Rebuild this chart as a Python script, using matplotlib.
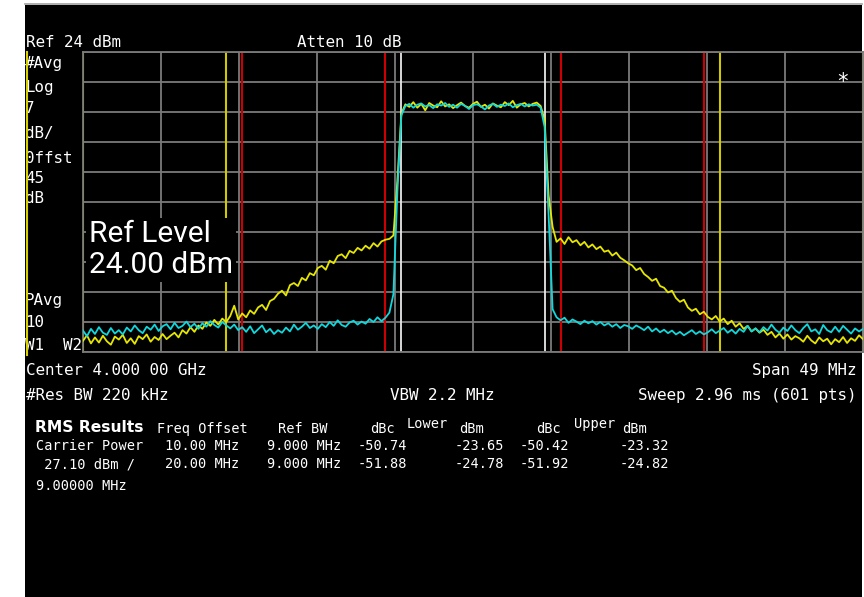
import numpy as np
import matplotlib
matplotlib.use("Agg")
import matplotlib.pyplot as plt
from matplotlib.patches import Rectangle

# ACP measurement screen, 601-pt sweep read back at 0.25 MHz steps
span_mhz = 49.0
ref_dbm = 24.0
db_div = 7.0

# yellow trace (W1), dBm
w1 = [-43.4, -42.1, -44.0, -42.6, -43.8, -42.2, -43.5, -44.3, -42.4, -43.1,
      -42.0, -43.9, -42.8, -44.1, -42.3, -43.0, -41.9, -43.6, -42.5, -43.2,
      -41.8, -43.0, -42.2, -41.5, -42.6, -40.9, -41.7, -40.2, -41.3, -39.8,
      -40.6, -39.1, -39.9, -38.5, -39.6, -38.2, -39.0, -37.6, -35.2, -38.4,
      -37.0, -37.9, -36.3, -37.1, -35.6, -35.0, -36.2, -34.1, -33.6, -32.4,
      -31.7, -32.8, -30.4, -29.9, -30.6, -28.7, -29.3, -27.6, -28.1, -26.4,
      -25.9, -26.8, -24.7, -25.3, -23.6, -23.2, -24.1, -22.4, -22.9, -21.7,
      -22.3, -21.2, -21.9, -20.6, -21.4, -20.2, -19.8,
      -19.6, -18.8, -6.0, 9.6,
      11.8, 11.2, 12.3, 11.0, 11.9, 10.4, 12.1, 11.5, 11.1, 12.5,
      11.3, 11.8, 10.9, 11.6, 12.2, 11.4, 11.0, 11.9, 12.4, 11.2,
      11.7, 10.8, 12.0, 11.5, 11.1, 12.3, 11.6, 12.6, 11.0, 11.8,
      12.1, 11.3, 11.9, 12.2, 11.4,
      8.2, -9.5, -16.8,
      -20.3,
      -19.5, -20.8, -19.2, -20.4, -19.9, -21.1, -20.3, -21.6, -20.9, -22.0,
      -21.4, -22.6, -22.3, -23.5, -22.8, -24.0, -24.6, -25.3, -25.8, -26.9,
      -26.4, -27.8, -28.5, -29.4, -28.9, -30.6, -31.0, -32.1, -31.7, -33.4,
      -34.3, -33.8, -35.6, -36.4, -35.9, -37.2, -36.6, -37.8, -38.4, -37.6,
      -38.9, -38.2, -39.5, -38.7, -40.1, -39.3, -40.6, -39.9, -41.2, -40.5,
      -41.5, -40.8, -42.0, -41.3, -42.6, -41.7, -42.9, -41.9, -43.1, -42.3,
      -42.8, -43.6, -42.2, -43.3, -44.0, -42.6, -43.5, -42.9, -44.2, -43.0,
      -43.7, -42.5, -43.9, -42.8, -43.4, -42.1, -43.0]

# cyan trace (W2), dBm
w2 = [-41.0, -42.3, -40.6, -41.8, -40.2, -41.5, -42.0, -40.4, -41.7, -40.9,
      -41.9, -40.3, -41.2, -39.8, -40.9, -41.6, -40.1, -40.8, -39.6, -41.1,
      -40.0, -39.5, -40.7, -39.2, -40.4, -39.9, -38.9, -40.2, -39.4, -40.6,
      -39.3, -40.1, -38.8, -39.7, -40.3, -39.0, -39.8, -40.5, -39.6, -40.9,
      -40.2, -41.3, -40.0, -41.6, -40.7, -39.8, -41.4, -40.6, -41.8, -40.9,
      -41.5, -40.3, -41.2, -39.6, -40.8, -40.1, -39.2, -40.4, -39.8, -40.6,
      -39.5, -40.2, -39.0, -39.9, -38.6, -39.7, -40.1, -39.1, -38.7, -39.6,
      -38.9, -39.4, -38.3, -39.0, -37.9, -38.8, -38.0,
      -36.8, -32.5, -8.5, 9.2,
      11.4, 11.9, 11.0, 11.7, 12.0, 11.3, 11.6, 10.9, 11.8, 11.5,
      12.1, 11.2, 11.7, 11.0, 11.9, 11.4, 10.7, 11.6, 11.8, 11.3,
      10.6, 11.5, 11.9, 11.2, 11.7, 11.4, 12.0, 11.1, 11.6, 11.9,
      11.3, 11.8, 11.5, 11.7, 11.0,
      6.5, -14.0, -36.0,
      -37.9, -38.6, -38.0, -39.2, -38.4, -38.9, -39.5, -38.7, -39.3, -38.8, -39.6,
      -39.0, -39.8, -39.3, -40.1, -39.5, -40.4, -39.7, -40.0, -40.6, -39.8,
      -40.3, -40.9, -40.1, -41.2, -40.5, -41.4, -40.8, -41.6, -41.0, -41.9,
      -41.3, -42.1, -41.5, -40.9, -41.8, -41.2, -41.9, -41.4, -40.7, -41.6,
      -41.0, -40.4, -41.5, -40.8, -41.7, -40.6, -41.3, -39.9, -41.2, -40.5,
      -41.4, -40.2, -41.0, -39.6, -40.8, -41.5, -40.3, -41.1, -39.8, -40.9,
      -41.6, -40.4, -39.5, -41.2, -40.7, -41.8, -39.7, -40.9, -41.4, -40.1,
      -41.3, -39.9, -40.8, -41.7, -40.5, -41.2, -40.6]

# integration band edges, MHz offset from center
carrier_edges = [-4.5, 4.5]
offset1_edges = [-14.5, -5.5, 5.5, 14.5]
offset2_edges = [-24.5, -15.5, 15.5, 24.5]

left_labels = ["#Avg", "Log", "7", "dB/", "0ffst", "45", "dB", "PAvg", "10", "W1  W2"]
offsets = ["10.00 MHz", "20.00 MHz"]
ref_bw = ["9.000 MHz", "9.000 MHz"]
lower_dbc = ["-50.74", "-51.88"]
lower_dbm = ["-23.65", "-24.78"]
upper_dbc = ["-50.42", "-51.92"]
upper_dbm = ["-23.32", "-24.82"]

W, H = 864, 597
fig = plt.figure(figsize=(W / 100, H / 100), dpi=100, facecolor="white")

def fx(x):
    return x / W

def fy(y):
    return 1 - y / H

# black instrument screen
fig.patches.append(Rectangle((fx(25), 0), fx(862) - fx(25), fy(5), transform=fig.transFigure,
                             facecolor="black", edgecolor="none", zorder=-10))
fig.lines.append(plt.Line2D([fx(25), fx(862)], [fy(4), fy(4)], transform=fig.transFigure,
                            color="#a0a0a0", lw=1.2, zorder=-9))
fig.lines.append(plt.Line2D([fx(26.5), fx(26.5)], [fy(52), fy(355)], transform=fig.transFigure,
                            color="#d8d000", lw=1.5, zorder=5))

ax = fig.add_axes([fx(83), fy(352), fx(863) - fx(83), fy(52) - fy(352)])
ax.set_facecolor("black")
ax.set_xlim(-span_mhz / 2, span_mhz / 2)
ax.set_ylim(ref_dbm - 10 * db_div, ref_dbm)
ax.set_xticks(np.linspace(-span_mhz / 2, span_mhz / 2, 11))
ax.set_yticks(np.linspace(ref_dbm - 10 * db_div, ref_dbm, 11))
ax.tick_params(length=0, labelbottom=False, labelleft=False)
ax.grid(True, color="#7a7a7a", lw=1.3)
for s in ax.spines.values():
    s.set_color("#7a7a7a")
    s.set_linewidth(1.3)

for f in carrier_edges:
    ax.axvline(f, color="#e8e8e8", lw=1.3, zorder=2)
for f in offset1_edges:
    ax.axvline(f, color="#cc0000", lw=1.5, zorder=2)
for f in offset2_edges:
    ax.axvline(f, color="#d0c800", lw=1.5, zorder=2)

freq = np.linspace(-span_mhz / 2, span_mhz / 2, len(w1))
ax.plot(freq, w1, color="#e6e600", lw=1.3, zorder=3)
ax.plot(freq, w2, color="#10d8dc", lw=1.3, zorder=4)

mono = "DejaVu Sans Mono"
big = dict(color="white", family=mono, fontsize=11.4, va="baseline")
small = dict(color="white", family=mono, fontsize=9.8, va="baseline")

fig.text(fx(26), fy(47), "Ref 24 dBm", **big)
fig.text(fx(297), fy(47), "Atten 10 dB", **big)
baselines = [68, 92, 113, 138, 163, 183, 203, 305, 327, 350]
for lab, b in zip(left_labels, baselines):
    fig.text(fx(25), fy(b), lab, **big)

fig.text(fx(89), fy(273), "Ref Level\n24.00 dBm", color="white", family="Roboto",
         fontsize=21.5, va="baseline", linespacing=1.12,
         bbox=dict(facecolor="black", edgecolor="none", pad=2))
fig.text(fx(843), fy(88), "*", color="white", family=mono, fontsize=15, ha="center", va="baseline")

fig.text(fx(26), fy(375), "Center 4.000 00 GHz", **big)
fig.text(fx(857), fy(375), "Span 49 MHz", ha="right", **big)
fig.text(fx(26), fy(400), "#Res BW 220 kHz", **big)
fig.text(fx(390), fy(400), "VBW 2.2 MHz", **big)
fig.text(fx(856), fy(400), "Sweep 2.96 ms (601 pts)", ha="right", **big)

fig.text(fx(35), fy(432), "RMS Results", color="white", family="DejaVu Sans",
         fontweight="bold", fontsize=11.2, va="baseline")
fig.text(fx(157), fy(433), "Freq Offset", **small)
fig.text(fx(278), fy(433), "Ref BW", **small)
fig.text(fx(370), fy(433), "dBc", **small)
fig.text(fx(407), fy(428), "Lower", **small)
fig.text(fx(459), fy(433), "dBm", **small)
fig.text(fx(536), fy(433), "dBc", **small)
fig.text(fx(574), fy(428), "Upper", **small)
fig.text(fx(622), fy(433), "dBm", **small)

fig.text(fx(36), fy(450), "Carrier Power", **small)
fig.text(fx(36), fy(468), " 27.10 dBm /", **small)
fig.text(fx(36), fy(490), "9.00000 MHz", **small)
for k, b in enumerate([450, 468]):
    fig.text(fx(165), fy(b), offsets[k], **small)
    fig.text(fx(267), fy(b), ref_bw[k], **small)
    fig.text(fx(358), fy(b), lower_dbc[k], **small)
    fig.text(fx(455), fy(b), lower_dbm[k], **small)
    fig.text(fx(520), fy(b), upper_dbc[k], **small)
    fig.text(fx(620), fy(b), upper_dbm[k], **small)

fig.savefig("out.png", dpi=100, facecolor="white")
